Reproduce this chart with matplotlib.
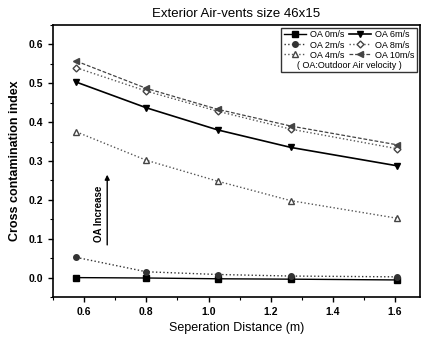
import numpy as np
import matplotlib
matplotlib.use("Agg")
import matplotlib.pyplot as plt
from matplotlib.ticker import MultipleLocator

plt.rcParams['font.family'] = ['Liberation Sans', 'DejaVu Sans']

# Datos
distancia = [0.575, 0.80, 1.03, 1.265, 1.605]
oa_0 = [0.000, -0.001, -0.003, -0.004, -0.006]
oa_2 = [0.052, 0.015, 0.008, 0.004, 0.002]
oa_4 = [0.375, 0.302, 0.248, 0.198, 0.153]
oa_6 = [0.503, 0.437, 0.380, 0.335, 0.288]
oa_8 = [0.540, 0.480, 0.428, 0.382, 0.332]
oa_10 = [0.557, 0.487, 0.433, 0.390, 0.342]
etiquetas = ['OA 0m/s', 'OA 2m/s', 'OA 4m/s', 'OA 6m/s', 'OA 8m/s', 'OA 10m/s']

fig = plt.figure(figsize=(4.25, 3.43), dpi=100)
ax = fig.add_axes([0.125, 0.134, 0.863, 0.793])

ax.plot(distancia, oa_0, '-', color='black', lw=1.0, marker='s', ms=4, label=etiquetas[0])
ax.plot(distancia, oa_2, ':', color='#333333', lw=1.0, marker='o', ms=4, label=etiquetas[1])
ax.plot(distancia, oa_4, ':', color='#555555', lw=1.0, marker='^', ms=4,
        mfc='white', mec='#444444', label=etiquetas[2])
ax.plot(distancia, oa_6, '-', color='black', lw=1.2, marker='v', ms=5, label=etiquetas[3])
ax.plot(distancia, oa_8, ':', color='#555555', lw=1.0, marker='D', ms=3.5,
        mfc='white', mec='#444444', label=etiquetas[4])
ax.plot(distancia, oa_10, '--', color='#444444', lw=0.9, marker='<', ms=4, dashes=(3, 1.5),
        label=etiquetas[5])

ax.set_xlim(0.5, 1.68)
ax.set_ylim(-0.05, 0.65)
ax.xaxis.set_major_locator(MultipleLocator(0.2))
ax.xaxis.set_minor_locator(MultipleLocator(0.1))
ax.yaxis.set_major_locator(MultipleLocator(0.1))
ax.yaxis.set_minor_locator(MultipleLocator(0.05))
ax.tick_params(which='major', direction='out', length=3.5, width=1, labelsize=7.5)
ax.tick_params(which='minor', direction='out', length=2, width=0.8)
for lab in ax.get_xticklabels() + ax.get_yticklabels():
    lab.set_fontweight('bold')
for s in ax.spines.values():
    s.set_linewidth(1.2)

ax.set_xlabel('Seperation Distance (m)', fontsize=9, labelpad=4)
ax.set_ylabel('Cross contamination index', fontsize=9, fontweight='bold', labelpad=6)
ax.set_title('Exterior Air-vents size 46x15', fontsize=9.5, pad=6)

# Flecha "OA Increase"
ax.annotate('', xy=(0.674, 0.272), xytext=(0.674, 0.077),
            arrowprops=dict(arrowstyle='-|>', color='black', lw=1, mutation_scale=7))
ax.text(0.648, 0.165, 'OA Increase', rotation=90, fontsize=7, fontweight='bold',
        ha='center', va='center')

# Leyenda con la nota al final
leg = ax.legend(ncol=2, loc='upper right', fontsize=6.5, frameon=True, fancybox=False,
                edgecolor='black', borderaxespad=0.3, borderpad=0.3, handlelength=2.5,
                columnspacing=0.5, handletextpad=0.4, labelspacing=0.12,
                title='( OA:Outdoor Air velocity )', title_fontsize=6.5)
leg.get_frame().set_linewidth(1)
leg._legend_box._children = leg._legend_box._children[::-1]

fig.savefig('out.png', dpi=100)
